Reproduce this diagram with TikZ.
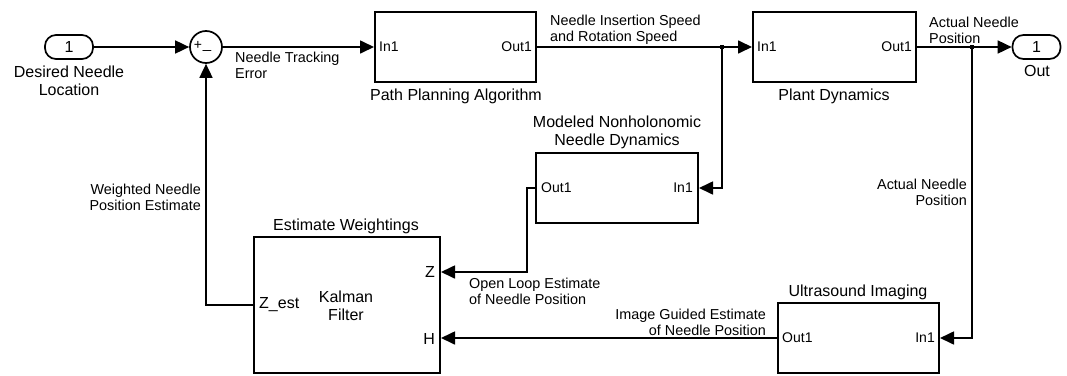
\documentclass[tikz,border=0pt]{standalone}
\usepackage{fontspec}
\setmainfont{Liberation Sans}
\usetikzlibrary{arrows.meta,calc}
\begin{document}
\begin{tikzpicture}[x=1pt,y=-1pt,
  blk/.style={draw, line width=2pt, inner sep=0pt},
  wire/.style={line width=1.7pt},
  sig/.style={line width=1.7pt, -{Triangle[length=14pt,width=13pt]}},
  lbl/.style={font=\fontsize{14.4}{16}\selectfont, inner sep=0pt},
  ttl/.style={font=\fontsize{16}{18}\selectfont, inner sep=0pt, align=center},
  prt/.style={font=\fontsize{14}{16}\selectfont, inner sep=0pt},
  kprt/.style={font=\fontsize{16}{18}\selectfont, inner sep=0pt},
  io/.style={draw, line width=1.7pt, rounded corners=11pt, minimum width=48pt, minimum height=24pt, inner sep=0pt, font=\fontsize{16}{18}\selectfont},
  dot/.style={fill, inner sep=0pt, minimum size=4.5pt}]
\useasboundingbox (0,0) rectangle (1067,375);

% ---- blocks ----
\node[io] (inp) at (69,47) {1};
\node[draw, circle, line width=1.7pt, minimum size=32pt, inner sep=0pt] (sum) at (206,47) {};
\node[font=\fontsize{14}{14}\selectfont, inner sep=0pt] (plus) at (198,45) {+};
\node[font=\fontsize{15}{15}\selectfont, inner sep=0pt] (minus) at (207,50) {\_};
\node[blk, minimum width=161pt, minimum height=70pt] (ppa) at (455.5,47) {};
\node[blk, minimum width=163pt, minimum height=70pt] (plant) at (834.5,47) {};
\node[io] (outp) at (1036.5,47) {1};
\node[blk, minimum width=162pt, minimum height=70pt] (mnd) at (617,188) {};
\node[blk, minimum width=186pt, minimum height=136pt] (kf) at (347,305) {};
\node[blk, minimum width=161pt, minimum height=70pt] (us) at (858.5,338) {};

% ---- port labels ----
\node[prt, anchor=west] (ppain) at ([xshift=5pt]ppa.west) {In1};
\node[prt, anchor=east] (ppaout) at ([xshift=-5pt]ppa.east) {Out1};
\node[prt, anchor=west] (plin) at ([xshift=5pt]plant.west) {In1};
\node[prt, anchor=east] (plout) at ([xshift=-5pt]plant.east) {Out1};
\node[prt, anchor=west] (mndout) at ([xshift=6pt]mnd.west) {Out1};
\node[prt, anchor=east] (mndin) at ([xshift=-6pt]mnd.east) {In1};
\node[prt, anchor=west] (usout) at ([xshift=5pt]us.west) {Out1};
\node[prt, anchor=east] (usin) at ([xshift=-5pt]us.east) {In1};
\node[kprt, anchor=west] (kzest) at (259,305) {Z\_est};
\node[kprt, anchor=east] (kzl) at (435,272) {Z};
\node[kprt, anchor=east] (khl) at (435,339) {H};
\node[ttl] (kname) at (346,306) {Kalman\\Filter};

% ---- block titles ----
\node[ttl] (tin) at (69,81) {Desired Needle\\Location};
\node[ttl] (tout) at (1037,71) {Out};
\node[ttl] (tppa) at (456,96) {Path Planning Algorithm};
\node[ttl] (tplant) at (834,96) {Plant Dynamics};
\node[ttl] (tmnd) at (617,132) {Modeled Nonholonomic\\Needle Dynamics};
\node[ttl] (tkf) at (346,226) {Estimate Weightings};
\node[ttl] (tus) at (858,292) {Ultrasound Imaging};

% ---- signal labels ----
\node[lbl, align=left, anchor=west] at (235,65) {Needle Tracking\\Error};
\node[lbl, align=left, anchor=west] at (550,30) {Needle Insertion Speed\\and Rotation Speed};
\node[lbl, align=left, anchor=west] at (929,30) {Actual Needle\\Position};
\node[lbl, align=right, anchor=east] at (201,197) {Weighted Needle\\Position Estimate};
\node[lbl, align=right, anchor=east] at (967,192) {Actual Needle\\Position};
\node[lbl, align=left, anchor=west] at (469,291) {Open Loop Estimate\\of Needle Position};
\node[lbl, align=right, anchor=east] at (766,322) {Image Guided Estimate\\of Needle Position};

% ---- branch points ----
\node[dot] (b1) at (722,47) {};
\node[dot] (b2) at (972,47) {};
\coordinate (kz) at (kf.east |- 0,272);
\coordinate (kh) at (kf.east |- us.west);

% ---- connectors ----
\draw[sig] (inp.east) -- (sum.west);
\draw[sig] (sum.east) -- (ppa.west);
\draw[sig] (ppa.east) -- (plant.west);
\draw[sig] (plant.east) -- (outp.west);
\draw[sig] (b1.center) |- (mnd.east);
\draw[sig] (b2.center) |- (us.east);
\draw[sig] (mnd.west) -- ++(-8,0) |- (kz);
\draw[sig] (us.west) -- (kh);
\draw[sig] (kf.west) -| (sum.south);
\end{tikzpicture}
\end{document}
